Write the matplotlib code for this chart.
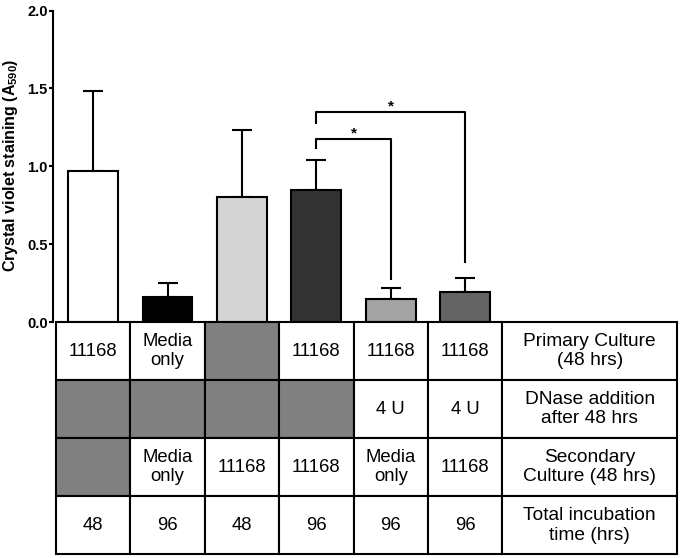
import matplotlib
matplotlib.use("Agg")
import matplotlib.pyplot as plt
from matplotlib.patches import Rectangle

plt.rcParams['font.family'] = ['Liberation Sans', 'DejaVu Sans']
plt.rcParams['mathtext.fontset'] = 'custom'
plt.rcParams['mathtext.rm'] = 'Liberation Sans:bold'
plt.rcParams['mathtext.bf'] = 'Liberation Sans:bold'

# bar values
means = [0.97, 0.16, 0.80, 0.85, 0.15, 0.19]
errs = [0.51, 0.09, 0.43, 0.19, 0.07, 0.09]
bar_colors = ['#ffffff', '#000000', '#d4d4d4', '#333333', '#a3a3a3', '#646464']

# table under the bars (None = grey cell)
row_cells = [
    ['11168', 'Media\nonly', None, '11168', '11168', '11168'],
    [None, None, None, None, '4 U', '4 U'],
    [None, 'Media\nonly', '11168', '11168', 'Media\nonly', '11168'],
    ['48', '96', '48', '96', '96', '96'],
]
row_labels = ['Primary Culture\n(48 hrs)', 'DNase addition\nafter 48 hrs',
              'Secondary\nCulture (48 hrs)', 'Total incubation\ntime (hrs)']

# significance brackets: (left bar, right bar, left foot, top, right foot)
brackets = [(3, 4, 1.115, 1.173, 0.274), (3, 5, 1.276, 1.346, 0.383)]

W, H = 680, 558
fig = plt.figure(figsize=(6.8, 5.58), dpi=100)

col_w = (502.3 - 56) / 6
x0 = -0.5 - (56 - 53.3) / col_w
ax = fig.add_axes([53.3 / W, 1 - 322 / H, (502.3 - 53.3) / W, (322 - 10.5) / H])
x = list(range(len(means)))
ax.errorbar(x, means, yerr=[[0] * 6, errs], fmt='none', ecolor='black',
            elinewidth=1.5, capsize=7.5, capthick=1.5, zorder=1)
ax.bar(x, means, width=0.67, color=bar_colors, edgecolor='black', linewidth=1.5, zorder=2)

for l, r, yl, yt, yr in brackets:
    ax.plot([l, l, r, r], [yl, yt, yt, yr], color='black', lw=1.5, zorder=3)
    ax.text((l + r) / 2, yt + 0.035, '*', ha='center', va='center', fontsize=11,
            fontweight='bold')

ax.set_xlim(x0, 5.5)
ax.set_ylim(0, 2.0)
ax.set_yticks([0, 0.5, 1.0, 1.5, 2.0])
ax.set_yticklabels(['0.0', '0.5', '1.0', '1.5', '2.0'], fontweight='bold', fontsize=10.5)
ax.set_xticks([])
for s in ['top', 'right', 'bottom']:
    ax.spines[s].set_visible(False)
ax.spines['left'].set_linewidth(1.5)
ax.tick_params(axis='y', length=3, width=1.5, pad=1)
ax.patch.set_alpha(0)
fig.text(11 / W, 1 - 165 / H, 'Crystal violet staining (A$_{590}$)', rotation=90,
         ha='center', va='center', fontsize=11.5, fontweight='bold')

# table
label_w = (677 - 502.3) / col_w
tax = fig.add_axes([56 / W, 1 - 554.3 / H, (677 - 56) / W, (554.3 - 322) / H])
tax.set_xlim(0, 6 + label_w)
tax.set_ylim(len(row_cells), 0)
tax.axis('off')
for r, (cells, lab) in enumerate(zip(row_cells, row_labels)):
    for c, txt in enumerate(cells):
        fc = '#808080' if txt is None else 'white'
        tax.add_patch(Rectangle((c, r), 1, 1, facecolor=fc, edgecolor='black',
                                linewidth=1.5, clip_on=False))
        if txt is not None:
            tax.text(c + 0.5, r + 0.5, txt, ha='center', va='center', fontsize=13.3)
    tax.add_patch(Rectangle((6, r), label_w, 1, facecolor='white', edgecolor='black',
                            linewidth=1.5, clip_on=False))
    tax.text(6 + label_w / 2, r + 0.5, lab, ha='center', va='center', fontsize=13.8)

fig.savefig('out.png', dpi=100)
